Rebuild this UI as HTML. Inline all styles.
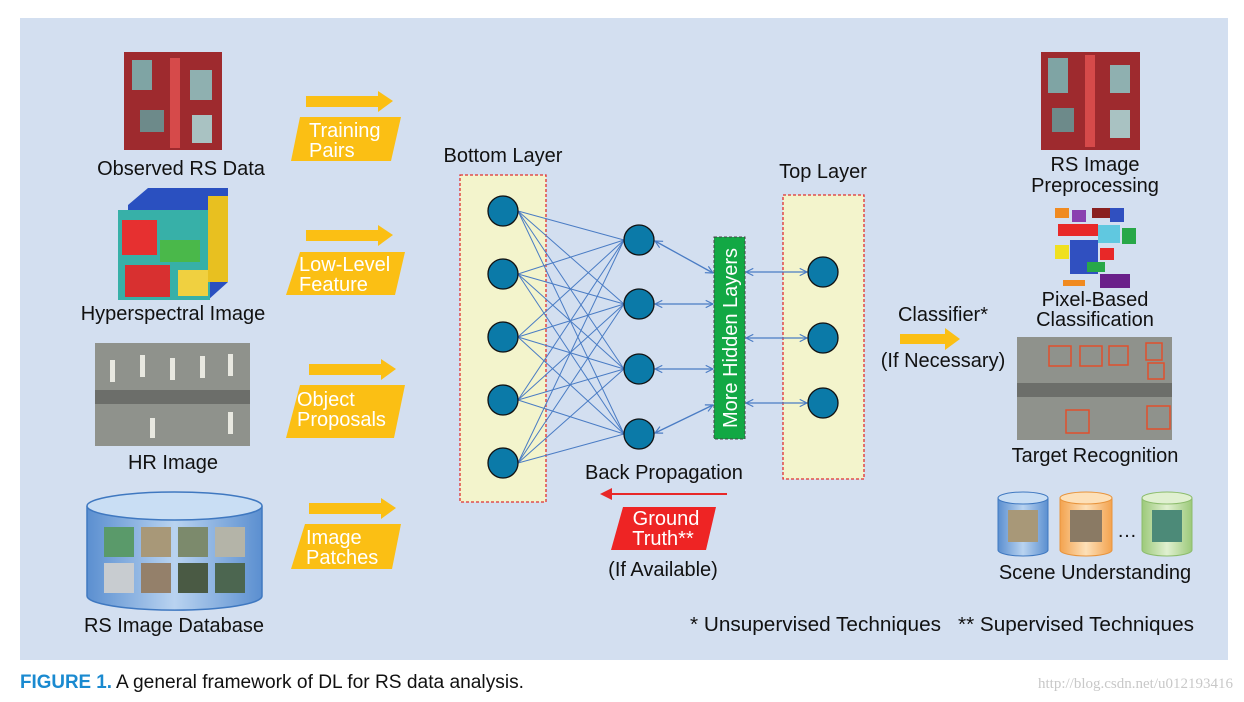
<!DOCTYPE html>
<html><head><meta charset="utf-8"><style>
body{margin:0;background:#fff;}
svg{display:block;font-family:"Liberation Sans",sans-serif;}
</style></head><body>
<svg width="1244" height="702" viewBox="0 0 1244 702" xmlns="http://www.w3.org/2000/svg">
<defs>
<marker id="ah" viewBox="0 0 10 10" refX="9" refY="5" markerWidth="7" markerHeight="7" orient="auto-start-reverse"><path d="M1 1L9 5L1 9" fill="none" stroke="#4a7cc4" stroke-width="1.3"/></marker>
<linearGradient id="cylB" x1="0" x2="1"><stop offset="0" stop-color="#5b8fd0"/><stop offset=".5" stop-color="#b9d3f0"/><stop offset="1" stop-color="#5b8fd0"/></linearGradient>
<linearGradient id="cylO" x1="0" x2="1"><stop offset="0" stop-color="#f3a34f"/><stop offset=".5" stop-color="#fde0b8"/><stop offset="1" stop-color="#f3a34f"/></linearGradient>
<linearGradient id="cylG" x1="0" x2="1"><stop offset="0" stop-color="#9cc97a"/><stop offset=".5" stop-color="#e0f0d0"/><stop offset="1" stop-color="#9cc97a"/></linearGradient>
</defs>
<rect x="20" y="18" width="1208" height="642" fill="#d3dff0"/>

<!-- left images -->
<rect x="124" y="52" width="98" height="98" fill="#9e2a2e"/>
<rect x="132" y="60" width="20" height="30" fill="#7fa4a4"/><rect x="170" y="58" width="10" height="90" fill="#d64a4a"/><rect x="190" y="70" width="22" height="30" fill="#8fb0b0"/><rect x="140" y="110" width="24" height="22" fill="#6d8a8a"/><rect x="192" y="115" width="20" height="28" fill="#a9c2c2"/>
<text x="181" y="175" font-size="20" text-anchor="middle" fill="#111">Observed RS Data</text>

<polygon points="128,205 148,188 228,188 228,282 208,300 128,300" fill="#2a50c0"/>
<rect x="118" y="210" width="92" height="90" fill="#37b0a8"/>
<rect x="122" y="220" width="35" height="35" fill="#e63030"/><rect x="160" y="240" width="40" height="22" fill="#4ab84a"/><rect x="125" y="265" width="45" height="32" fill="#d83030"/><rect x="178" y="270" width="30" height="26" fill="#f0d040"/>
<rect x="208" y="196" width="20" height="86" fill="#e8c020"/>
<text x="173" y="320" font-size="20" text-anchor="middle" fill="#111">Hyperspectral Image</text>

<rect x="95" y="343" width="155" height="103" fill="#8f928c"/>
<rect x="95" y="390" width="155" height="14" fill="#6c6e6a"/>
<g fill="#e8e8e0"><rect x="110" y="360" width="5" height="22"/><rect x="140" y="355" width="5" height="22"/><rect x="170" y="358" width="5" height="22"/><rect x="200" y="356" width="5" height="22"/><rect x="228" y="354" width="5" height="22"/><rect x="150" y="418" width="5" height="20"/><rect x="228" y="412" width="5" height="22"/></g>
<text x="173" y="469" font-size="20" text-anchor="middle" fill="#111">HR Image</text>

<path d="M87 506 V596 A87 14 0 0 0 262 596 V506" fill="url(#cylB)" stroke="#3f78c0" stroke-width="1.5"/>
<ellipse cx="174.5" cy="506" rx="87.5" ry="14" fill="#c9def4" stroke="#3f78c0" stroke-width="1.5"/>
<g><rect x="104" y="527" width="30" height="30" fill="#5a9a6a"/><rect x="141" y="527" width="30" height="30" fill="#a89878"/><rect x="178" y="527" width="30" height="30" fill="#7c8a6c"/><rect x="215" y="527" width="30" height="30" fill="#b4b4a8"/><rect x="104" y="563" width="30" height="30" fill="#c8ccd0"/><rect x="141" y="563" width="30" height="30" fill="#94806a"/><rect x="178" y="563" width="30" height="30" fill="#4a5a44"/><rect x="215" y="563" width="30" height="30" fill="#4c6650"/></g>
<text x="174" y="632" font-size="20" text-anchor="middle" fill="#111">RS Image Database</text>

<!-- yellow arrows + labels -->
<g fill="#fbbf14">
<polygon points="306,96 378,96 378,91 393,101 378,112 378,107 306,107"/>
<polygon points="300,117 401,117 391,161 291,161"/>
<polygon points="306,230 378,230 378,225 393,235 378,246 378,241 306,241"/>
<polygon points="300,252 405,252 395,295 286,295"/>
<polygon points="309,364 381,364 381,359 396,369 381,380 381,375 309,375"/>
<polygon points="300,385 405,385 394,438 286,438"/>
<polygon points="309,503 381,503 381,498 396,508 381,519 381,514 309,514"/>
<polygon points="305,524 401,524 392,569 291,569"/>
</g>
<g fill="#fff" font-size="20">
<text x="309" y="137">Training</text><text x="309" y="157">Pairs</text>
<text x="299" y="271">Low-Level</text><text x="299" y="291">Feature</text>
<text x="297" y="406">Object</text><text x="297" y="426">Proposals</text>
<text x="306" y="544">Image</text><text x="306" y="564">Patches</text>
</g>

<!-- network -->
<text x="503" y="162" font-size="20" text-anchor="middle" fill="#111">Bottom Layer</text>
<text x="823" y="178" font-size="20" text-anchor="middle" fill="#111">Top Layer</text>
<rect x="460" y="175" width="86" height="327" fill="#f3f4cc" stroke="#e03030" stroke-width="1.3" stroke-dasharray="3,2"/>
<rect x="783" y="195" width="81" height="284" fill="#f3f4cc" stroke="#e03030" stroke-width="1.3" stroke-dasharray="3,2"/>
<g stroke="#4a7cc4" stroke-width="1">
<line x1="518" y1="211" x2="624" y2="240"/><line x1="518" y1="211" x2="624" y2="304"/><line x1="518" y1="211" x2="624" y2="369"/><line x1="518" y1="211" x2="624" y2="434"/>
<line x1="518" y1="274" x2="624" y2="240"/><line x1="518" y1="274" x2="624" y2="304"/><line x1="518" y1="274" x2="624" y2="369"/><line x1="518" y1="274" x2="624" y2="434"/>
<line x1="518" y1="337" x2="624" y2="240"/><line x1="518" y1="337" x2="624" y2="304"/><line x1="518" y1="337" x2="624" y2="369"/><line x1="518" y1="337" x2="624" y2="434"/>
<line x1="518" y1="400" x2="624" y2="240"/><line x1="518" y1="400" x2="624" y2="304"/><line x1="518" y1="400" x2="624" y2="369"/><line x1="518" y1="400" x2="624" y2="434"/>
<line x1="518" y1="463" x2="624" y2="240"/><line x1="518" y1="463" x2="624" y2="304"/><line x1="518" y1="463" x2="624" y2="369"/><line x1="518" y1="463" x2="624" y2="434"/>
</g>
<g stroke="#4a7cc4" stroke-width="1.3" marker-start="url(#ah)" marker-end="url(#ah)">
<line x1="655" y1="241" x2="713" y2="273"/><line x1="655" y1="304" x2="713" y2="304"/><line x1="655" y1="369" x2="713" y2="369"/><line x1="655" y1="433" x2="713" y2="405"/>
<line x1="746" y1="272" x2="807" y2="272"/><line x1="746" y1="338" x2="807" y2="338"/><line x1="746" y1="403" x2="807" y2="403"/>
</g>
<g fill="#0b7aa8" stroke="#111" stroke-width="1.3">
<circle cx="503" cy="211" r="15"/><circle cx="503" cy="274" r="15"/><circle cx="503" cy="337" r="15"/><circle cx="503" cy="400" r="15"/><circle cx="503" cy="463" r="15"/>
<circle cx="639" cy="240" r="15"/><circle cx="639" cy="304" r="15"/><circle cx="639" cy="369" r="15"/><circle cx="639" cy="434" r="15"/>
<circle cx="823" cy="272" r="15"/><circle cx="823" cy="338" r="15"/><circle cx="823" cy="403" r="15"/>
</g>
<rect x="714" y="237" width="31" height="202" fill="#12a844" stroke="#444" stroke-width="1" stroke-dasharray="3,2"/>
<text transform="translate(737,338) rotate(-90)" font-size="20" text-anchor="middle" fill="#fff">More Hidden Layers</text>
<text x="664" y="479" font-size="20" text-anchor="middle" fill="#111">Back Propagation</text>
<line x1="727" y1="494" x2="606" y2="494" stroke="#e82828" stroke-width="2"/>
<polygon points="600,494 612,488 612,500" fill="#e82828"/>
<polygon points="623,507 716,507 706,550 611,550" fill="#ee2424"/>
<text x="666" y="525" font-size="20" text-anchor="middle" fill="#fff">Ground</text>
<text x="663" y="545" font-size="20" text-anchor="middle" fill="#fff">Truth**</text>
<text x="663" y="576" font-size="20" text-anchor="middle" fill="#111">(If Available)</text>

<!-- classifier -->
<text x="943" y="321" font-size="20" text-anchor="middle" fill="#111">Classifier*</text>
<polygon points="900,334 945,334 945,328 960,339 945,350 945,344 900,344" fill="#fbbf14"/>
<text x="943" y="367" font-size="20" text-anchor="middle" fill="#111">(If Necessary)</text>

<!-- right images -->
<rect x="1041" y="52" width="99" height="98" fill="#9e2a2e"/>
<rect x="1048" y="58" width="20" height="35" fill="#7fa4a4"/><rect x="1085" y="55" width="10" height="92" fill="#d64a4a"/><rect x="1110" y="65" width="20" height="28" fill="#8fb0b0"/><rect x="1052" y="108" width="22" height="24" fill="#6d8a8a"/><rect x="1110" y="110" width="20" height="28" fill="#a9c2c2"/>
<text x="1095" y="171" font-size="20" text-anchor="middle" fill="#111">RS Image</text>
<text x="1095" y="192" font-size="20" text-anchor="middle" fill="#111">Preprocessing</text>
<g>
<rect x="1055" y="208" width="14" height="10" fill="#f08a20"/><rect x="1072" y="210" width="14" height="12" fill="#8a40b0"/><rect x="1092" y="208" width="18" height="10" fill="#8a2020"/><rect x="1110" y="208" width="14" height="14" fill="#3050c0"/>
<rect x="1058" y="224" width="40" height="12" fill="#e82828"/><rect x="1098" y="225" width="22" height="18" fill="#60c8e0"/><rect x="1122" y="228" width="14" height="16" fill="#28a848"/>
<rect x="1055" y="245" width="14" height="14" fill="#f0e020"/><rect x="1070" y="240" width="28" height="34" fill="#3050c0"/><rect x="1100" y="248" width="14" height="12" fill="#e82828"/><rect x="1087" y="262" width="18" height="10" fill="#28a848"/>
<rect x="1100" y="274" width="30" height="14" fill="#6a208a"/><rect x="1063" y="280" width="22" height="6" fill="#f08a20"/>
</g>
<text x="1095" y="306" font-size="20" text-anchor="middle" fill="#111">Pixel-Based</text>
<text x="1095" y="326" font-size="20" text-anchor="middle" fill="#111">Classification</text>
<rect x="1017" y="337" width="155" height="103" fill="#8f928c"/>
<rect x="1017" y="383" width="155" height="14" fill="#6c6e6a"/>
<g fill="none" stroke="#e0502c" stroke-width="1.5"><rect x="1049" y="346" width="22" height="20"/><rect x="1080" y="346" width="22" height="20"/><rect x="1109" y="346" width="19" height="19"/><rect x="1146" y="343" width="16" height="17"/><rect x="1148" y="363" width="16" height="16"/><rect x="1066" y="410" width="23" height="23"/><rect x="1147" y="406" width="23" height="23"/></g>
<text x="1095" y="462" font-size="20" text-anchor="middle" fill="#111">Target Recognition</text>
<path d="M998 498 V550 A25 6 0 0 0 1048 550 V498" fill="url(#cylB)" stroke="#3f78c0"/>
<ellipse cx="1023" cy="498" rx="25" ry="6" fill="#c9def4" stroke="#3f78c0"/>
<rect x="1008" y="510" width="30" height="32" fill="#a89878"/>
<path d="M1060 498 V550 A26 6 0 0 0 1112 550 V498" fill="url(#cylO)" stroke="#e8943c"/>
<ellipse cx="1086" cy="498" rx="26" ry="6" fill="#fde0b8" stroke="#e8943c"/>
<rect x="1070" y="510" width="32" height="32" fill="#8a7a64"/>
<text x="1127" y="537" font-size="20" text-anchor="middle" fill="#111">…</text>
<path d="M1142 498 V550 A25 6 0 0 0 1192 550 V498" fill="url(#cylG)" stroke="#8cbc6c"/>
<ellipse cx="1167" cy="498" rx="25" ry="6" fill="#e0f0d0" stroke="#8cbc6c"/>
<rect x="1152" y="510" width="30" height="32" fill="#4c8a78"/>
<text x="1095" y="579" font-size="20" text-anchor="middle" fill="#111">Scene Understanding</text>

<text x="690" y="631" font-size="20" fill="#111" textLength="251" lengthAdjust="spacingAndGlyphs">* Unsupervised Techniques</text>
<text x="958" y="631" font-size="20" fill="#111" textLength="236" lengthAdjust="spacingAndGlyphs">** Supervised Techniques</text>

<text x="20" y="688" font-size="19" font-weight="bold" fill="#1a8ad0" textLength="92" lengthAdjust="spacingAndGlyphs">FIGURE 1.</text>
<text x="116" y="688" font-size="19" fill="#111" textLength="408" lengthAdjust="spacingAndGlyphs">A general framework of DL for RS data analysis.</text>
<text x="1233" y="688" font-size="15" fill="#c8c8c8" text-anchor="end" font-family="Liberation Serif,serif">http://blog.csdn.net/u012193416</text>
</svg>
</body></html>
